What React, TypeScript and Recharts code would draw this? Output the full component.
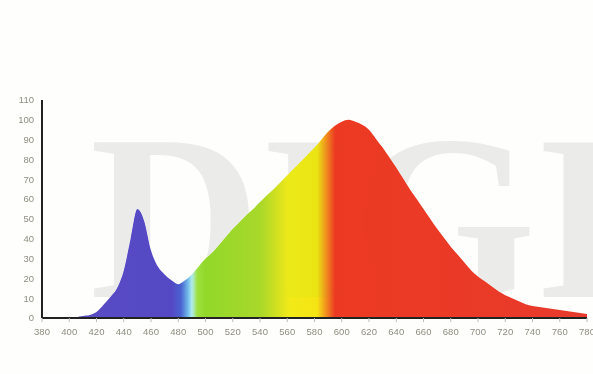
import { Area, AreaChart, XAxis, YAxis } from 'recharts';

// wavelength (nm) and relative intensity (%)
const wavelengths = [
    380, 385, 390, 395, 400, 405, 410, 415, 420, 425, 430, 435, 440, 445, 450, 455, 460, 465, 470, 475,
    480, 485, 490, 495, 500, 505, 510, 515, 520, 525, 530, 535, 540, 545, 550, 555, 560, 565, 570, 575,
    580, 585, 590, 595, 600, 605, 610, 615, 620, 625, 630, 635, 640, 645, 650, 655, 660, 665, 670, 675,
    680, 685, 690, 695, 700, 705, 710, 715, 720, 725, 730, 735, 740, 745, 750, 755, 760, 765, 770, 775,
    780,
];
const intensity = [
    0.5, 0.5, 0.5, 0.5, 0.5, 0.5, 1, 1.5, 3, 6.5, 10.5, 15, 24, 40, 55, 49, 34, 26, 22, 19,
    17, 19, 22, 26, 30, 33, 37, 41, 45, 48.5, 52, 55, 58.5, 62, 65, 68.5, 72, 75.5, 79, 82.5,
    86, 90, 94, 97, 99, 100, 99, 97.5, 95, 90.5, 86, 81, 76, 70.5, 65, 60, 55, 50, 45, 40.5,
    36, 32, 28, 24, 21, 18.5, 16, 13.5, 11.5, 10, 8.5, 7, 6, 5.5, 5, 4.5, 4, 3.5, 3, 2.5,
    2,
];
const xTicks = [380, 400, 420, 440, 460, 480, 500, 520, 540, 560, 580, 600, 620, 640, 660, 680, 700, 720, 740, 760, 780];
const yTicks = [0, 10, 20, 30, 40, 50, 60, 70, 80, 90, 100, 110];

const data = wavelengths.map((nm, i) => ({ nm, value: intensity[i] }));

const tickStyle = { fontSize: 9.5, fill: '#8e8e80', fontFamily: 'Liberation Sans, Arial, sans-serif' };

export default function App() {
    return (
        <div style={{ position: 'absolute', left: 0, top: 0, width: 593, height: 374, background: '#fefefc', overflow: 'hidden', isolation: 'isolate' }}>
            <AreaChart width={593} height={374} data={data} margin={{ top: 100, right: 6, bottom: 36, left: 12 }}>
                <defs>
                    <linearGradient id="spectrum" x1="0" y1="0" x2="1" y2="0">
                        <stop offset="0" stopColor="#5a4ec4" />
                        <stop offset="0.2375" stopColor="#5548c4" />
                        <stop offset="0.255" stopColor="#4a62d0" />
                        <stop offset="0.2675" stopColor="#70b8e8" />
                        <stop offset="0.275" stopColor="#b0ecf0" />
                        <stop offset="0.285" stopColor="#9ee040" />
                        <stop offset="0.3" stopColor="#92d82a" />
                        <stop offset="0.4" stopColor="#a8d82a" />
                        <stop offset="0.43" stopColor="#d0e020" />
                        <stop offset="0.455" stopColor="#f2ea18" />
                        <stop offset="0.505" stopColor="#f5e414" />
                        <stop offset="0.5225" stopColor="#f08a1e" />
                        <stop offset="0.5375" stopColor="#ec3a22" />
                        <stop offset="1" stopColor="#e83a2c" />
                    </linearGradient>
                </defs>
                <XAxis
                    dataKey="nm"
                    type="number"
                    domain={[380, 780]}
                    ticks={xTicks}
                    interval={0}
                    height={20}
                    tick={tickStyle}
                    tickSize={4}
                    tickMargin={6}
                    tickLine={{ stroke: '#bbbbbb' }}
                    axisLine={{ stroke: '#222222', strokeWidth: 2 }}
                />
                <YAxis
                    domain={[0, 110]}
                    ticks={yTicks}
                    interval={0}
                    width={30}
                    tick={tickStyle}
                    tickLine={false}
                    axisLine={{ stroke: '#222222', strokeWidth: 2 }}
                />
                <Area
                    type="monotone"
                    dataKey="value"
                    stroke="none"
                    fill="url(#spectrum)"
                    fillOpacity={1}
                    isAnimationActive={false}
                />
            </AreaChart>
            {/* scan watermark; darken blend keeps it grey on white and almost invisible on the colours */}
            <svg width={593} height={374} style={{ position: 'absolute', left: 0, top: 0, pointerEvents: 'none', mixBlendMode: 'darken' }}>
                <text x={90} y={297} fontSize={236} fontWeight="bold" fontFamily="Liberation Serif, serif" fill="#ebebea">
                    DIGI
                </text>
            </svg>
        </div>
    );
}
